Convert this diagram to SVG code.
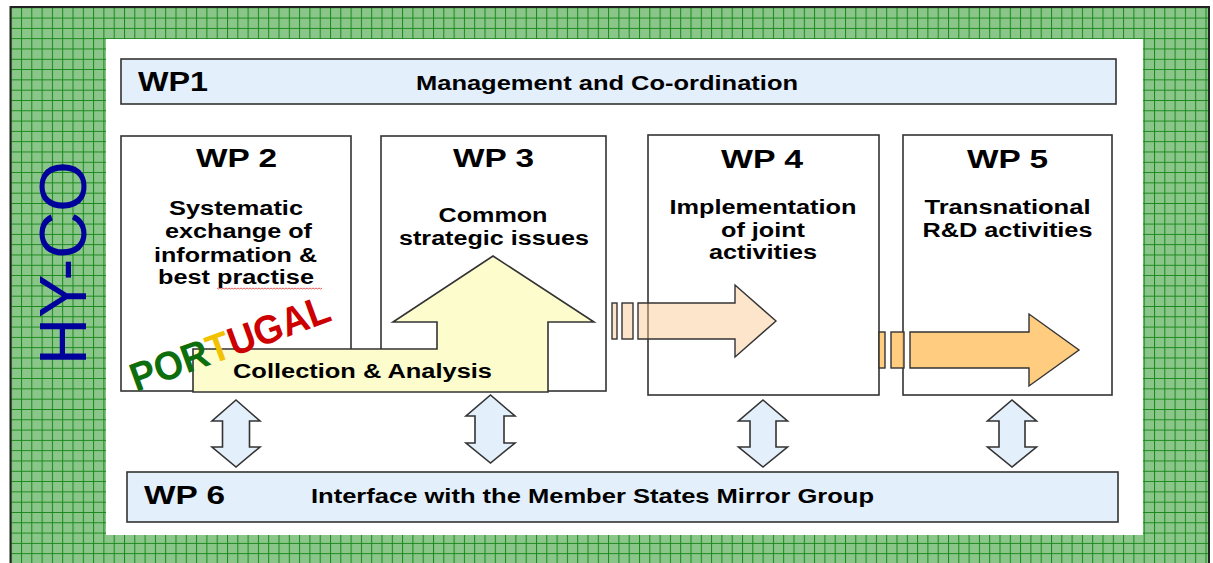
<svg xmlns="http://www.w3.org/2000/svg" width="1213" height="563" viewBox="0 0 1213 563">
<style>
.box{stroke:#333;stroke-width:1.6}
.wb{fill:#fff}
.bl{fill:#e3effb}
.t{font-family:"Liberation Sans",Arial,sans-serif;font-weight:bold;fill:#000}
.ti{font-size:26px}
.tx{font-size:20px}
.dbl{fill:#e3effb;stroke:#333;stroke-width:1.6;stroke-linejoin:miter}
.ar{stroke:#333;stroke-width:1.4}
</style>
<defs>
<pattern id="grid" patternUnits="userSpaceOnUse" x="10.7" y="7.3" width="10.3" height="10.3">
<rect width="10.3" height="10.3" fill="#8ac68a"/>
<path d="M0 0.5H10.3M0.5 0V10.3" stroke="#188818" stroke-width="1"/>
</pattern>
</defs>
<rect width="1213" height="563" fill="#fff"/>
<g id="background">
<rect x="10.5" y="7" width="1198.5" height="560" fill="url(#grid)" stroke="#222" stroke-width="2"/>
<rect x="106" y="39" width="1037" height="496" fill="#fff"/>
</g>
<g id="hyco">
<text class="t" transform="translate(86,263) rotate(-90)" text-anchor="middle" style="font-weight:normal;font-size:66px;fill:#00009a" textLength="204" lengthAdjust="spacingAndGlyphs">HY-CO</text>
</g>
<g id="wp1">
<rect class="box bl" x="121" y="59" width="995" height="45"/>
<text class="t" x="138" y="91" style="font-size:27px" textLength="70" lengthAdjust="spacingAndGlyphs">WP1</text>
<text class="t tx" x="607" y="90" text-anchor="middle" textLength="382" lengthAdjust="spacingAndGlyphs">Management and Co-ordination</text>
</g>
<g id="wp2">
<rect class="box wb" x="121" y="136" width="230" height="255"/>
<text class="t ti" x="236.5" y="167" text-anchor="middle" textLength="81" lengthAdjust="spacingAndGlyphs">WP 2</text>
<text class="t tx" x="236" y="215" text-anchor="middle" textLength="134" lengthAdjust="spacingAndGlyphs">Systematic</text>
<text class="t tx" x="238.5" y="238" text-anchor="middle" textLength="147" lengthAdjust="spacingAndGlyphs">exchange of</text>
<text class="t tx" x="235.5" y="262" text-anchor="middle" textLength="163" lengthAdjust="spacingAndGlyphs">information &amp;</text>
<text class="t tx" x="236" y="284" text-anchor="middle" textLength="156" lengthAdjust="spacingAndGlyphs">best practise</text>
<path d="M217 288 l1.5 1 1.5 -1 1.5 1 1.5 -1 1.5 1 1.5 -1 1.5 1 1.5 -1 1.5 1 1.5 -1 1.5 1 1.5 -1 1.5 1 1.5 -1 1.5 1 1.5 -1 1.5 1 1.5 -1 1.5 1 1.5 -1 1.5 1 1.5 -1 1.5 1 1.5 -1 1.5 1 1.5 -1 1.5 1 1.5 -1 1.5 1 1.5 -1 1.5 1 1.5 -1 1.5 1 1.5 -1 1.5 1 1.5 -1 1.5 1 1.5 -1 1.5 1 1.5 -1 1.5 1 1.5 -1 1.5 1 1.5 -1 1.5 1 1.5 -1 1.5 1 1.5 -1 1.5 1 1.5 -1 1.5 1 1.5 -1 1.5 1 1.5 -1 1.5 1 1.5 -1 1.5 1 1.5 -1 1.5 1 1.5 -1 1.5 1 1.5 -1 1.5 1 1.5 -1 1.5 1 1.5 -1 1.5 1 1.5 -1 1.5 1 1.5 -1" fill="none" stroke="#e03030" stroke-width="0.8"/>
</g>
<g id="wp3">
<rect class="box wb" x="381" y="136" width="225" height="255"/>
<text class="t ti" x="493.5" y="167" text-anchor="middle" textLength="81" lengthAdjust="spacingAndGlyphs">WP 3</text>
<text class="t tx" x="493" y="222" text-anchor="middle" textLength="109" lengthAdjust="spacingAndGlyphs">Common</text>
<text class="t tx" x="494" y="245" text-anchor="middle" textLength="190" lengthAdjust="spacingAndGlyphs">strategic issues</text>
</g>
<g id="wp4">
<rect class="box wb" x="648" y="135" width="231" height="260"/>
<text class="t ti" x="762" y="168" text-anchor="middle" textLength="82" lengthAdjust="spacingAndGlyphs">WP 4</text>
<text class="t tx" x="763" y="214" text-anchor="middle" textLength="187" lengthAdjust="spacingAndGlyphs">Implementation</text>
<text class="t tx" x="763" y="237" text-anchor="middle" textLength="84" lengthAdjust="spacingAndGlyphs">of joint</text>
<text class="t tx" x="763" y="259" text-anchor="middle" textLength="108" lengthAdjust="spacingAndGlyphs">activities</text>
</g>
<g id="wp5">
<rect class="box wb" x="903" y="135" width="209" height="260"/>
<text class="t ti" x="1007.5" y="168" text-anchor="middle" textLength="81" lengthAdjust="spacingAndGlyphs">WP 5</text>
<text class="t tx" x="1007.5" y="214" text-anchor="middle" textLength="166" lengthAdjust="spacingAndGlyphs">Transnational</text>
<text class="t tx" x="1007.5" y="237" text-anchor="middle" textLength="170" lengthAdjust="spacingAndGlyphs">R&amp;D activities</text>
</g>
<g id="wp6">
<rect class="box bl" x="127" y="472" width="991" height="50"/>
<text class="t ti" x="144" y="504" textLength="81" lengthAdjust="spacingAndGlyphs">WP 6</text>
<text class="t tx" x="592.5" y="503" text-anchor="middle" textLength="563" lengthAdjust="spacingAndGlyphs">Interface with the Member States Mirror Group</text>
</g>
<g id="collection">
<polygon points="193,349 437,349 437,322 393,322 493,256 594,322 548,322 548,392 193,392" fill="#fdfccc" stroke="#333" stroke-width="1.6" stroke-linejoin="miter"/>
<text class="t tx" x="362.5" y="378" text-anchor="middle" textLength="259" lengthAdjust="spacingAndGlyphs">Collection &amp; Analysis</text>
</g>
<g id="portugal">
<text class="t" transform="translate(136,392) rotate(-20)" style="font-size:40px" textLength="210" lengthAdjust="spacingAndGlyphs"><tspan fill="#0e6e0e">POR</tspan><tspan fill="#f2c200">T</tspan><tspan fill="#cc0000">UGAL</tspan></text>
</g>
<g id="connectors">
<g class="ar" fill="#fbc68c" fill-opacity="0.45">
<rect x="612" y="303" width="5" height="36"/>
<rect x="622" y="303" width="11" height="36"/>
<polygon points="638,303 735,303 735,285 776,321 735,357 735,339 638,339"/>
</g>
<g class="ar" fill="#ffc36a" fill-opacity="0.85">
<rect x="879" y="332" width="6" height="36"/>
<rect x="891" y="332" width="13" height="36"/>
<polygon points="910,332 1029,332 1029,314 1079,350 1029,386 1029,368 910,368"/>
</g>
<polygon class="dbl" points="236,400 260,421 249.5,421 249.5,447 260,447 236,467 212,447 222.5,447 222.5,421 212,421"/>
<polygon class="dbl" points="490.5,395 515,416 504,416 504,443 515,443 490.5,463 466,443 475,443 475,416 466,416"/>
<polygon class="dbl" points="763,400 787.5,421 776,421 776,447 787.5,447 763,467 738.5,447 750,447 750,421 738.5,421"/>
<polygon class="dbl" points="1012,400 1036.5,421 1025,421 1025,447 1036.5,447 1012,467 987.5,447 999,447 999,421 987.5,421"/>
</g>
</svg>
